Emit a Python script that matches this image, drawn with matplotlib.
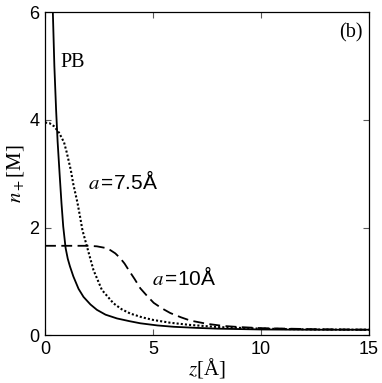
import matplotlib
matplotlib.use("Agg")
import matplotlib.pyplot as plt

plt.rcParams['mathtext.fontset'] = 'stix'
plt.rcParams['font.family'] = 'Liberation Sans'

# PB (solid)
z_pb = [0.30, 0.36, 0.43, 0.51, 0.58, 0.68, 0.76, 0.84, 0.95, 1.05, 1.15, 1.31,
        1.55, 1.78, 2.1, 2.4, 2.8, 3.33, 3.9, 4.41, 5.2, 5.95, 7.0, 8.0, 10.0, 12.5, 15.0]
n_pb = [7.3, 6.0, 5.0, 4.19, 3.6, 2.95, 2.45, 2.02, 1.62, 1.42, 1.28, 1.09,
        0.86, 0.71, 0.57, 0.47, 0.38, 0.31, 0.26, 0.22, 0.18, 0.155, 0.135, 0.12, 0.105, 0.10, 0.10]

# a = 7.5 A (dotted)
z_75 = [0.0, 0.2, 0.42, 0.65, 0.88, 1.0, 1.19, 1.31, 1.50, 1.62, 1.73, 1.93, 2.24,
        2.63, 3.17, 3.55, 3.95, 4.5, 5.03, 5.8, 6.7, 8.0, 10.0, 12.5, 15.0]
n_75 = [3.95, 3.94, 3.88, 3.76, 3.58, 3.40, 3.07, 2.80, 2.46, 2.20, 1.95, 1.66, 1.21,
        0.84, 0.59, 0.48, 0.40, 0.33, 0.28, 0.23, 0.19, 0.15, 0.12, 0.105, 0.10]

# a = 10 A (dashed)
z_10 = [0.0, 1.0, 2.0, 2.4, 2.8, 3.02, 3.25, 3.48, 3.68, 3.87, 4.15, 4.41, 4.72,
        5.03, 5.4, 5.8, 6.3, 6.73, 7.5, 8.27, 9.0, 10.0, 12.5, 15.0]
n_10 = [1.66, 1.66, 1.66, 1.65, 1.62, 1.58, 1.52, 1.43, 1.33, 1.21, 1.04, 0.87, 0.73,
        0.60, 0.50, 0.41, 0.33, 0.27, 0.21, 0.17, 0.15, 0.13, 0.11, 0.10]

x_ticks = [0, 5, 10, 15]
y_ticks = [0, 2, 4, 6]

fig = plt.figure(figsize=(3.82, 3.83), dpi=100)
ax = fig.add_axes([0.118, 0.125, 0.848, 0.843])

ax.plot(z_pb, n_pb, color='black', lw=1.3, ls='-')
ax.plot(z_75, n_75, color='black', lw=1.5, ls=(0, (1, 1)))
ax.plot(z_10, n_10, color='black', lw=1.3, ls=(0, (6, 3)))

ax.set_xlim(0, 15)
ax.set_ylim(0, 6)
ax.set_xticks(x_ticks)
ax.set_yticks(y_ticks)
ax.tick_params(direction='in', top=True, right=True, length=4.5, width=0.8,
               color='0.35', labelsize=13, pad=4)
for s in ax.spines.values():
    s.set_linewidth(0.9)

ax.set_xlabel(r'$z$[Å]', family='Liberation Serif', fontsize=15, labelpad=-1)
ax.set_ylabel(r'$n_+$[M]', family='Liberation Serif', fontsize=15, labelpad=2)

ax.text(0.7, 5.06, 'PB', family='Liberation Serif', fontsize=14.5,
        ha='left', va='center')
ax.text(14.72, 5.62, '(b)', family='Liberation Serif', fontsize=14.5,
        ha='right', va='center')
ax.text(2.0, 2.86, r'$a\,$=7.5Å', fontsize=15, ha='left', va='center')
ax.text(4.95, 1.08, r'$a\,$=10Å', fontsize=15, ha='left', va='center')

fig.savefig('out.png', dpi=100)
